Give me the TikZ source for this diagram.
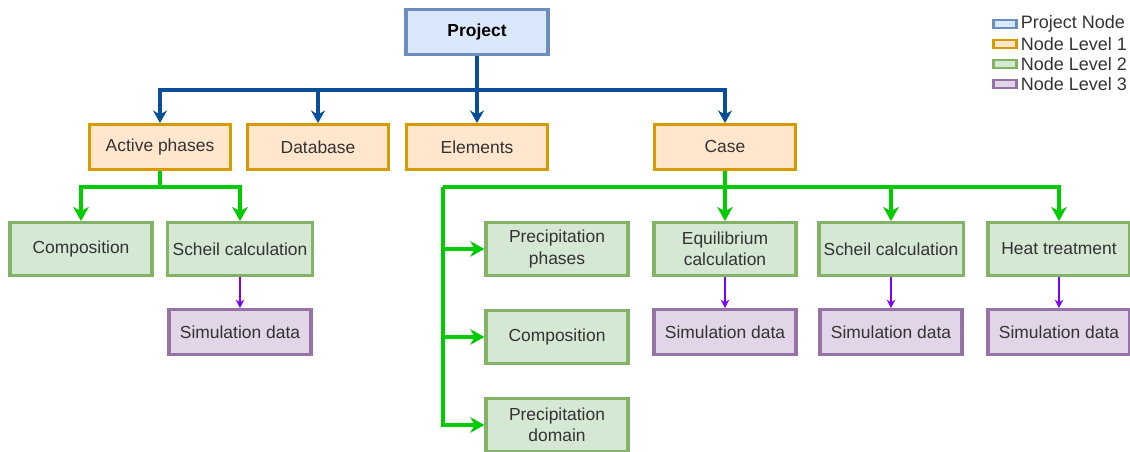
\documentclass[tikz,border=0pt]{standalone}
\usepackage{fontspec}
\setmainfont{Liberation Sans}
\usepackage{tikz}
\usetikzlibrary{arrows.meta}
\usetikzlibrary{positioning}
\definecolor{projFill}{HTML}{DAE8FC}
\definecolor{projDraw}{HTML}{6C8EBF}
\definecolor{lvlOneFill}{HTML}{FFE6CC}
\definecolor{lvlOneDraw}{HTML}{D79B00}
\definecolor{lvlTwoFill}{HTML}{D5E8D4}
\definecolor{lvlTwoDraw}{HTML}{82B366}
\definecolor{lvlThreeFill}{HTML}{E1D5E7}
\definecolor{lvlThreeDraw}{HTML}{9673A6}
\definecolor{busBlue}{HTML}{0A4E9B}
\definecolor{busGreen}{HTML}{00CC00}
\definecolor{busPurple}{HTML}{7F00FF}
\definecolor{txtGray}{HTML}{333333}

\begin{document}
\begin{tikzpicture}[x=0.025cm,y=-0.025cm]
\tikzset{every node/.style={font=\fontsize{12.4}{15}\selectfont, text=txtGray, align=center}}

\tikzset{ProjectNode/.style={
  draw=projDraw,
  fill=projFill,
  rectangle,
  line width=2.2pt,
  minimum width=3.55cm,
  minimum height=1.12cm,
  text=black,
  font=\fontsize{12.4}{15}\selectfont\bfseries,
}}
\tikzset{FirstLevel/.style={
  draw=lvlOneDraw,
  fill=lvlOneFill,
  rectangle,
  line width=2.2pt,
  minimum width=3.53cm,
  minimum height=1.12cm,
}}
\tikzset{SecondLevel/.style={
  draw=lvlTwoDraw,
  fill=lvlTwoFill,
  rectangle,
  line width=2.2pt,
  minimum width=3.55cm,
  minimum height=1.32cm,
}}
\tikzset{ThirdLevel/.style={
  draw=lvlThreeDraw,
  fill=lvlThreeFill,
  rectangle,
  line width=2.2pt,
  minimum width=3.55cm,
  minimum height=1.12cm,
}}
\tikzset{BlueEdge/.style={draw=busBlue, line width=2.2pt, -{Stealth[length=9pt,width=10pt,inset=3pt]}}}
\tikzset{GreenEdge/.style={draw=busGreen, line width=2.2pt, -{Stealth[length=10pt,width=11pt,inset=3pt]}}}
\tikzset{PurpleEdge/.style={draw=busPurple, line width=1pt, -{Stealth[length=6pt,width=6pt,inset=2pt]}}}
\tikzset{LegendBox/.style={rectangle, line width=1.6pt, minimum width=0.58cm, minimum height=0.2cm, inner sep=0pt}}

\useasboundingbox (0,0) rectangle (1130,452);

% root and first level
\node[ProjectNode] (project) at (477,32) {Project};
\node[FirstLevel] (active) at (160,147) {Active phases};
\node[FirstLevel] (database) at (318,147) {Database};
\node[FirstLevel] (elements) at (477,147) {Elements};
\node[FirstLevel] (case) at (725,147) {Case};

% below active phases
\node[SecondLevel] (compA) at (81,249) {Composition};
\node[SecondLevel] (scheilA) at (240,249) {Scheil calculation};
\node[ThirdLevel] (simA) at (240,332) {Simulation data};

% below case
\node[SecondLevel] (precPhases) at (557,249) {Precipitation\\phases};
\node[SecondLevel] (compB) at (557,337) {Composition};
\node[SecondLevel] (precDomain) at (557,425) {Precipitation\\domain};
\node[SecondLevel] (equil) at (725,249) {Equilibrium\\calculation};
\node[SecondLevel] (scheilB) at (891,249) {Scheil calculation};
\node[SecondLevel] (heat) at (1059,249) {Heat treatment};
\node[ThirdLevel] (simB) at (725,332) {Simulation data};
\node[ThirdLevel] (simC) at (891,332) {Simulation data};
\node[ThirdLevel] (simD) at (1059,332) {Simulation data};

% connectors
\coordinate (projBus) at (477,90);
\draw[draw=busBlue, line width=2.2pt] (project) -- (projBus);
\foreach \n in {active,database,elements,case}
  \draw[BlueEdge] (projBus) -| (\n);

\coordinate (activeBus) at (160,187);
\draw[draw=busGreen, line width=2.2pt] (active) -- (activeBus);
\draw[GreenEdge] (activeBus) -| (compA);
\draw[GreenEdge] (activeBus) -| (scheilA);

\coordinate (caseBus) at (725,187);
\coordinate (caseLeft) at (443,187);
\draw[draw=busGreen, line width=2.2pt] (case) -- (caseBus) -- (caseLeft);
\foreach \n in {equil,scheilB,heat}
  \draw[GreenEdge] (caseBus) -| (\n);
\foreach \n in {precPhases,compB,precDomain}
  \draw[GreenEdge] (caseLeft) |- (\n);

\draw[PurpleEdge] (scheilA) -- (simA);
\draw[PurpleEdge] (equil) -- (simB);
\draw[PurpleEdge] (scheilB) -- (simC);
\draw[PurpleEdge] (heat) -- (simD);

% legend
\node[LegendBox, draw=projDraw, fill=projFill] (lgProject) at (1005,24) {};
\node[LegendBox, draw=lvlOneDraw, fill=lvlOneFill] (lgOne) at (1005,44) {};
\node[LegendBox, draw=lvlTwoDraw, fill=lvlTwoFill] (lgTwo) at (1005,64) {};
\node[LegendBox, draw=lvlThreeDraw, fill=lvlThreeFill] (lgThree) at (1005,84) {};
\node[right=1pt of lgProject, inner sep=1pt, font=\fontsize{12.8}{14}\selectfont] (lgProjectText) {Project Node};
\node[right=1pt of lgOne, inner sep=1pt, font=\fontsize{12.8}{14}\selectfont] (lgOneText) {Node Level 1};
\node[right=1pt of lgTwo, inner sep=1pt, font=\fontsize{12.8}{14}\selectfont] (lgTwoText) {Node Level 2};
\node[right=1pt of lgThree, inner sep=1pt, font=\fontsize{12.8}{14}\selectfont] (lgThreeText) {Node Level 3};
\end{tikzpicture}
\end{document}
